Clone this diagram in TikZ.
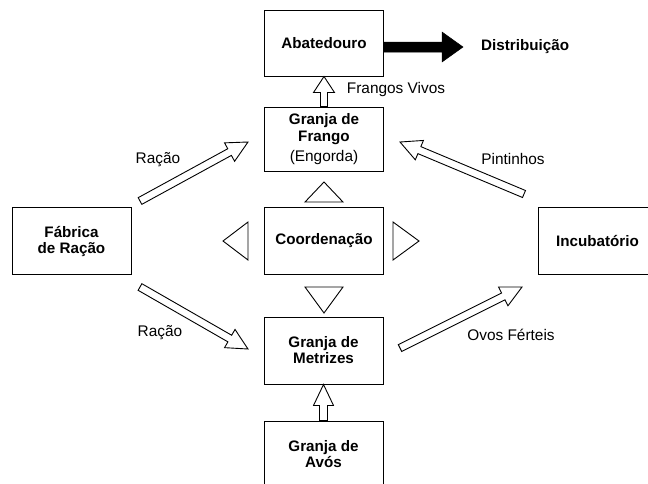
\documentclass[tikz,border=0pt]{standalone}
\usepackage{fontspec}
\setmainfont{Liberation Sans}
\usetikzlibrary{calc}
\newcommand\blkarrow[6]{%
  \coordinate (hb) at ($(#3)!#5!(#2)$);
  \draw[#1] ($(#2)!#4!90:(#3)$) -- ($(hb)!#4!90:(#3)$) -- ($(hb)!#6!90:(#3)$)
    -- (#3) -- ($(hb)!#6!-90:(#3)$) -- ($(hb)!#4!-90:(#3)$) -- ($(#2)!#4!-90:(#3)$) -- cycle;}
\tikzset{
  box/.style={draw, line width=1pt, minimum width=119pt, minimum height=66pt, inner sep=0pt,
    align=center, font=\bfseries\fontsize{15.2}{16}\selectfont},
  lbl/.style={inner sep=0pt, font=\fontsize{15.4}{17}\selectfont},
  hollow/.style={draw, fill=white, line width=0.9pt, line join=miter},
  solid arrow/.style={draw, fill=black, line width=0.5pt, line join=miter},
  tri/.style={draw, line width=0.9pt, line join=miter}
}
\begin{document}
\begin{tikzpicture}[x=1pt, y=-1pt]
\useasboundingbox (0,0) rectangle (648,483);
% boxes
\node[box] (abat) at (324,43) {Abatedouro};
\node[box, minimum height=64pt] (frango) at (324,139) {Granja de\\[1pt] Frango\\[4pt] {\mdseries\fontsize{15.4}{17}\selectfont (Engorda)}};
\node[box, minimum height=67pt] (coord) at (324,241) {Coordenação};
\node[box, minimum height=67pt] (fab) at (71.5,241) {Fábrica\\de Ração};
\node[box, minimum height=67pt] (incub) at (597.5,241) {Incubatório};
\node[box, minimum height=67pt] (metr) at (323.5,350.5) {Granja de\\Metrizes};
\node[box] (avos) at (323.5,454) {Granja de\\Avós};
% labels
\node[lbl, anchor=west, font=\bfseries\fontsize{15.2}{16}\selectfont] (dist) at (481,47) {Distribuição};
\node[lbl] (lfv) at (396,90) {Frangos Vivos};
\node[lbl] (lr1) at (158,160) {Ração};
\node[lbl] (lpin) at (513,159) {Pintinhos};
\node[lbl] (lr2) at (160,333) {Ração};
\node[lbl] (lovos) at (511,335) {Ovos Férteis};
% arrow end points
\coordinate (r1t) at (140,201);  \coordinate (r1h) at (248,142);
\coordinate (pt)  at (524,194);  \coordinate (ph)  at (400,142);
\coordinate (r2t) at (140,287);  \coordinate (r2h) at (248,349);
\coordinate (ot)  at (400,348);  \coordinate (oh)  at (522,287);
\coordinate (dt)  at ($(abat.east)+(0,4)$);
\coordinate (dh)  at (463,47);
% connectors
\blkarrow{hollow}{frango.north}{abat.south}{3.5pt}{16pt}{10.5pt}
\blkarrow{hollow}{avos.north}{metr.south}{4pt}{21pt}{10pt}
\blkarrow{hollow}{r1t}{r1h}{3.8pt}{21pt}{10.5pt}
\blkarrow{hollow}{pt}{ph}{3.8pt}{21pt}{10.5pt}
\blkarrow{hollow}{r2t}{r2h}{3.8pt}{21pt}{10.5pt}
\blkarrow{hollow}{ot}{oh}{3.8pt}{21pt}{10.5pt}
\blkarrow{solid arrow}{dt}{dh}{5pt}{21pt}{15pt}
% coordination triangles
\draw[tri] (305,202) -- (343,202) -- (324,182) -- cycle;
\draw[tri] (248,222) -- (248,260) -- (223,241) -- cycle;
\draw[tri] (393,222) -- (393,260) -- (419,241) -- cycle;
\draw[tri] (305,287) -- (343,287) -- (324,313) -- cycle;
\end{tikzpicture}
\end{document}
